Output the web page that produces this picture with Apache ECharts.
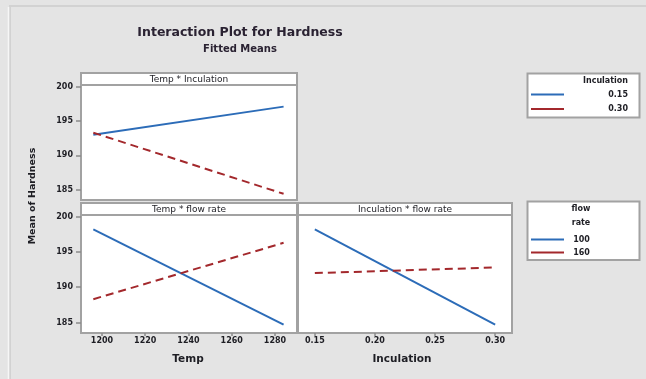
<!DOCTYPE html>
<html>
<head>
<meta charset="utf-8">
<script src="https://cdn.jsdelivr.net/npm/echarts@6/dist/echarts.min.js"></script>
<style>
  html, body { margin: 0; padding: 0; background: #e4e4e4; }
  #chart { width: 646px; height: 379px; }
</style>
</head>
<body>
<div id="chart"></div>
<script>
// Factor levels
const temps = [1196, 1284];
const inoculations = [0.15, 0.30];
const inocLabels = ['0.15', '0.30'];
const flowLabels = ['100', '160'];

// Fitted mean hardness at each factor combination
const hardTempInoc15 = [193.0, 197.1];
const hardTempInoc30 = [193.3, 184.4];
const hardTempFlow100 = [198.2, 184.7];
const hardTempFlow160 = [188.3, 196.3];
const hardInocFlow100 = [198.2, 184.7];
const hardInocFlow160 = [192.0, 192.8];

// Tick values
const yTicks = [185, 190, 195, 200];
const tempTicks = [1200, 1220, 1240, 1260, 1280];
const inocTicks = [0.15, 0.20, 0.25, 0.30];

const BLUE = '#2c6cb8';
const RED = '#a3282c';
const FRAME = '#a2a2a2';
const FONT = '"DejaVu Sans", sans-serif';
const TXT = '#1e1e24';

const pairs = (xs, ys) => xs.map((x, i) => [x, ys[i]]);

const panels = [
  { left: 81, top: 85, width: 216, height: 115, strip: 'Temp * Inculation' },
  { left: 81, top: 215, width: 216, height: 118, strip: 'Temp * flow rate' },
  { left: 298, top: 215, width: 214, height: 118, strip: 'Inculation * flow rate' }
];
const STRIP_H = 12;

const tickLabel = { fontFamily: FONT, fontSize: 8, fontWeight: 'bold', color: TXT };

function yAxis(idx, showLabels) {
  return {
    type: 'value', gridIndex: idx, min: 183.5, max: 200.25,
    axisLine: { show: false },
    splitLine: { show: false },
    axisTick: { show: showLabels, customValues: yTicks, length: 5, lineStyle: { color: '#8a8a8a', width: 1.5 } },
    axisLabel: { show: showLabels, customValues: yTicks, margin: 8, ...tickLabel }
  };
}
function xAxis(idx, min, max, ticks, fmt, show) {
  return {
    type: 'value', gridIndex: idx, min: min, max: max,
    axisLine: { show: false },
    splitLine: { show: false },
    axisTick: { show: show, customValues: ticks, length: 3, lineStyle: { color: '#8a8a8a', width: 1.5 } },
    axisLabel: { show: show, customValues: ticks, margin: 4, formatter: fmt, ...tickLabel }
  };
}

function lineSeries(name, xi, yi, data, color, dashed) {
  return {
    name: name, type: 'line', xAxisIndex: xi, yAxisIndex: yi,
    data: data, symbol: 'none', silent: true, animation: false,
    lineStyle: { color: color, width: 2, type: dashed ? [8, 5] : 'solid' }
  };
}

const graphics = [];
// outer frame of the figure
graphics.push({ type: 'rect', z: -10, shape: { x: 10, y: 6, width: 640, height: 380 },
  style: { fill: '#e4e4e4', stroke: '#d2d2d2', lineWidth: 2 } });
graphics.push({ type: 'line', z: -10, shape: { x1: 8.5, y1: 7, x2: 8.5, y2: 379 },
  style: { stroke: '#f6f6f6', lineWidth: 1.5 } });

// strip headers above each panel
panels.forEach(p => {
  graphics.push({ type: 'rect', z: 1, shape: { x: p.left, y: p.top - STRIP_H, width: p.width, height: STRIP_H },
    style: { fill: '#ffffff', stroke: FRAME, lineWidth: 2 } });
  graphics.push({ type: 'text', z: 2, x: p.left + p.width / 2, y: p.top - STRIP_H / 2 + 0.5,
    style: { text: p.strip, fontFamily: FONT, fontSize: 9, fill: TXT, align: 'center', verticalAlign: 'middle' } });
});

// titles
graphics.push({ type: 'text', x: 240, y: 33, style: { text: 'Interaction Plot for Hardness',
  fontFamily: FONT, fontSize: 12.5, fontWeight: 'bold', fill: '#2a2232', align: 'center', verticalAlign: 'middle' } });
graphics.push({ type: 'text', x: 240, y: 49, style: { text: 'Fitted Means',
  fontFamily: FONT, fontSize: 10, fontWeight: 'bold', fill: '#2a2232', align: 'center', verticalAlign: 'middle' } });
graphics.push({ type: 'text', x: 33, y: 196, rotation: Math.PI / 2, style: { text: 'Mean of Hardness',
  fontFamily: FONT, fontSize: 9.5, fontWeight: 'bold', fill: TXT, align: 'center', verticalAlign: 'middle' } });
graphics.push({ type: 'text', x: 188, y: 359, style: { text: 'Temp',
  fontFamily: FONT, fontSize: 10.5, fontWeight: 'bold', fill: TXT, align: 'center', verticalAlign: 'middle' } });
graphics.push({ type: 'text', x: 402, y: 359, style: { text: 'Inculation',
  fontFamily: FONT, fontSize: 10.5, fontWeight: 'bold', fill: TXT, align: 'center', verticalAlign: 'middle' } });

// legends
function legendBox(y, h, titleLines, titleAlign, labels, labelAlign, rowY) {
  graphics.push({ type: 'rect', z: 1, shape: { x: 527.5, y: y, width: 112, height: h },
    style: { fill: '#ffffff', stroke: FRAME, lineWidth: 2 } });
  const tx = titleAlign === 'right' ? 628 : 581;
  titleLines.forEach((t, i) => {
    graphics.push({ type: 'text', z: 2, x: tx, y: y + 7.5 + i * 13.5,
      style: { text: t, fontFamily: FONT, fontSize: 8, fontWeight: 'bold', fill: TXT, align: titleAlign, verticalAlign: 'middle' } });
  });
  const colors = [BLUE, RED];
  labels.forEach((lab, i) => {
    const ly = rowY[i];
    graphics.push({ type: 'line', z: 2, shape: { x1: 531, y1: ly, x2: 564, y2: ly },
      style: { stroke: colors[i], lineWidth: 2 } });
    graphics.push({ type: 'text', z: 2, x: labelAlign === 'right' ? 628 : 581.5, y: ly,
      style: { text: lab, fontFamily: FONT, fontSize: 8, fontWeight: 'bold', fill: TXT, align: labelAlign, verticalAlign: 'middle' } });
  });
}
legendBox(73.5, 44, ['Inculation'], 'right', inocLabels, 'right', [94.5, 109]);
legendBox(201.5, 58.5, ['flow', 'rate'], 'center', flowLabels, 'center', [239.5, 252.5]);

const option = {
  backgroundColor: '#e4e4e4',
  animation: false,
  grid: panels.map(p => ({
    left: p.left, top: p.top, width: p.width, height: p.height,
    show: true, backgroundColor: '#ffffff', borderColor: FRAME, borderWidth: 2
  })),
  xAxis: [
    xAxis(0, 1190.3, 1290.2, tempTicks, v => String(v), false),
    xAxis(1, 1190.3, 1290.2, tempTicks, v => String(v), true),
    xAxis(2, 0.136, 0.314, inocTicks, v => v.toFixed(2), true)
  ],
  yAxis: [yAxis(0, true), yAxis(1, true), yAxis(2, false)],
  series: [
    lineSeries('0.15', 0, 0, pairs(temps, hardTempInoc15), BLUE, false),
    lineSeries('0.30', 0, 0, pairs(temps, hardTempInoc30), RED, true),
    lineSeries('100', 1, 1, pairs(temps, hardTempFlow100), BLUE, false),
    lineSeries('160', 1, 1, pairs(temps, hardTempFlow160), RED, true),
    lineSeries('100', 2, 2, pairs(inoculations, hardInocFlow100), BLUE, false),
    lineSeries('160', 2, 2, pairs(inoculations, hardInocFlow160), RED, true)
  ],
  graphic: graphics
};

const chart = echarts.init(document.getElementById('chart'), null, { renderer: 'canvas' });
chart.setOption(option);
</script>
</body>
</html>
